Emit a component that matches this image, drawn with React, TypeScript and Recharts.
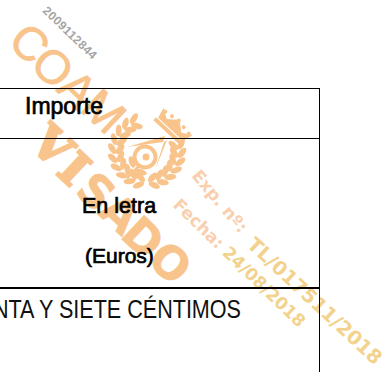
import React from 'react';
import { ComposedChart, Line, XAxis, YAxis } from 'recharts';

// table rules as small x/y series, drawn through the hidden axes
const topRule = [{ x: 0, y: 88.5 }, { x: 319.5, y: 88.5 }];
const headRule = [{ x: 0, y: 138.5 }, { x: 319.5, y: 138.5 }];
const heavyRule = [{ x: 0, y: 288 }, { x: 319.5, y: 288 }];
const rightRule = [{ x: 319.5, y: 88 }, { x: 319.5, y: 372 }];

const coamLetters = ['C', 'O', 'A', 'M'];
const coamAt = [[30, 43], [53, 67], [78, 89], [104, 111]];
const visadoLetters = ['V', 'I', 'S', 'A', 'D', 'O'];
const visadoAt = [[52, 146], [74, 169], [96, 192], [120, 214], [143, 238], [170, 263]];

const stampColor = '#f8c48c';
const peach = '#f9cfae';
const gold = '#f2d28c';

const leftLeaves = [14, 30, 46, 62, 78, 94, 110, 126, 142, 158];
const rightLeaves = [-12, -27, -42, -57, -72, -87, -102];
const crownPoints = [-16, -8, 0, 8, 16];

function Wreath() {
  const cx = 147;
  const cy = 151;
  const r = 31;
  const leaf = (deg: number, offset: number, tilt: number) => {
    const a = ((deg + 90) * Math.PI) / 180;
    const x = cx + (r + offset) * Math.cos(a);
    const y = cy + (r + offset) * Math.sin(a);
    return (
      <ellipse
        key={`${deg}-${offset}`}
        cx={x}
        cy={y}
        rx={6}
        ry={3}
        fill={stampColor}
        transform={`rotate(${deg + tilt} ${x} ${y})`}
      />
    );
  };
  return (
    <g>
      {leftLeaves.map((d) => leaf(d, 4, -35))}
      {leftLeaves.map((d) => leaf(d, -4, 35))}
      {rightLeaves.map((d) => leaf(d, 4, 35))}
      {rightLeaves.map((d) => leaf(d, -4, -35))}
    </g>
  );
}

function Stamp() {
  return (
    <g fontFamily="Liberation Sans">
      {coamLetters.map((c, i) => (
        <text
          key={c + i}
          x={coamAt[i][0]}
          y={coamAt[i][1]}
          fontSize={47}
          fill={stampColor}
          stroke={stampColor}
          strokeWidth={0.8}
          textAnchor="middle"
          dominantBaseline="central"
          transform={`rotate(43 ${coamAt[i][0]} ${coamAt[i][1]})`}
        >
          {c}
        </text>
      ))}
      {visadoLetters.map((c, i) => (
        <text
          key={c + i}
          x={visadoAt[i][0]}
          y={visadoAt[i][1]}
          fontSize={i < 2 ? 46 : 45}
          fontWeight="bold"
          fontFamily={i < 2 ? 'DejaVu Serif' : 'DejaVu Sans'}
          fill={stampColor}
          stroke={stampColor}
          strokeWidth={i < 2 ? 2.6 : 0.6}
          textAnchor="middle"
          dominantBaseline="central"
          transform={`rotate(43 ${visadoAt[i][0]} ${visadoAt[i][1]})`}
        >
          {c}
        </text>
      ))}
      <Wreath />
      <g transform="rotate(43 172 128)">
        <rect x={153} y={131} width={38} height={4} fill={stampColor} />
        <path d="M155 130 L152 119 L162 125 L172 117 L182 125 L192 119 L189 130 Z" fill={stampColor} />
        {crownPoints.map((d) => (
          <circle key={d} cx={172 + d} cy={118 + Math.abs(d) / 6} r={2} fill={stampColor} />
        ))}
      </g>
      <path d="M127 147 L165 136 L163 142 Z" fill={stampColor} />
      <path d="M164 142 L167 140 L155 170 Z" fill={stampColor} />
      <circle cx={145} cy={157} r={10.5} fill="none" stroke={stampColor} strokeWidth={4} />
      <circle cx={146} cy={157} r={3.5} fill={stampColor} />
      <path d="M139 166 L127 178" stroke={stampColor} strokeWidth={2.5} />
      <ellipse cx={132} cy={162} rx={6} ry={3} fill={stampColor} transform="rotate(70 132 162)" />
      <ellipse cx={140} cy={172} rx={7} ry={3} fill={stampColor} transform="rotate(15 140 172)" />

      <text x={70} y={33} fontSize={12} fontWeight="bold" fill="#a5a5a5" textAnchor="middle" dominantBaseline="central" letterSpacing={0.4} transform="rotate(44 70 33)">
        2009112844
      </text>
      <g fontFamily="DejaVu Sans" fontWeight="bold">
        <text x={191} y={176} fontSize={17} fill={peach} transform="rotate(50 191 176)">
          Exp. nº:
        </text>
        <text x={172} y={206} fontSize={17} fill={peach} transform="rotate(44 172 206)">
          Fecha: <tspan fill={gold}>24/08/2018</tspan>
        </text>
        <text x={246} y={246} fontSize={19.5} fill={gold} transform="rotate(43 246 246)">
          TL/017511/2018
        </text>
      </g>
    </g>
  );
}

function TableText() {
  return (
    <g fontFamily="Liberation Sans" fill="#000" stroke="#000" strokeWidth={0.7}>
      <text x={25} y={114} fontSize={23}>
        Importe
      </text>
      <text x={82} y={213} fontSize={21.5}>
        En letra
      </text>
      <text x={85} y={263} fontSize={21}>
        (Euros)
      </text>
      <text transform="translate(241 318) scale(0.83 1)" fontSize={26} textAnchor="end" fill="#111" stroke="none">
        NTA Y SIETE CÉNTIMOS
      </text>
    </g>
  );
}

const ruleProps = {
  type: 'linear' as const,
  dataKey: 'y',
  stroke: '#000',
  dot: () => <g />,
  activeDot: false,
  isAnimationActive: false,
};

export default function App() {
  return (
    <div style={{ position: 'fixed', left: 0, top: 0, width: 390, height: 372, background: '#fff' }}>
      <ComposedChart width={390} height={372} margin={{ top: 0, right: 0, bottom: 0, left: 0 }}>
        <XAxis type="number" dataKey="x" domain={[0, 390]} hide />
        <YAxis type="number" domain={[0, 372]} reversed hide />
        <Stamp />
        <Line {...ruleProps} data={topRule} strokeWidth={1} />
        <Line {...ruleProps} data={headRule} strokeWidth={1} />
        <Line {...ruleProps} data={heavyRule} strokeWidth={2} />
        <Line {...ruleProps} data={rightRule} strokeWidth={1} />
        <TableText />
      </ComposedChart>
    </div>
  );
}
